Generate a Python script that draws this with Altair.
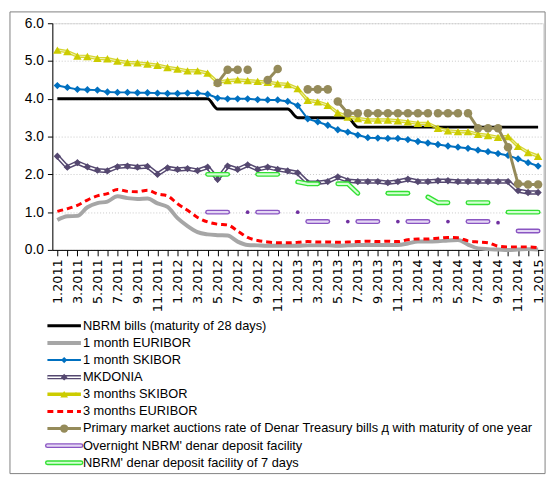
import altair as alt
import pandas as pd

# ---------------- data ----------------
months = [f"{m}.{y}" for y in range(2011, 2016) for m in range(1, 13)][:49]
idx = list(range(49))

nbrm_bills = [4.00, 4.00, 4.00, 4.00, 4.00, 4.00, 4.00, 4.00, 4.00, 4.00, 4.00, 4.00,
              4.00, 4.00, 4.00, 4.00, 3.73, 3.73, 3.73, 3.73, 3.73, 3.73, 3.73, 3.73,
              3.50, 3.50, 3.50, 3.50, 3.50, 3.50, 3.25, 3.25, 3.25, 3.25, 3.25, 3.25,
              3.25, 3.25, 3.25, 3.25, 3.25, 3.25, 3.25, 3.25, 3.25, 3.25, 3.25, 3.25,
              3.25]
euribor_1m = [0.79, 0.89, 0.90, 1.13, 1.24, 1.28, 1.42, 1.37, 1.35, 1.36, 1.23, 1.14,
              0.84, 0.63, 0.47, 0.41, 0.39, 0.38, 0.22, 0.13, 0.12, 0.11, 0.11, 0.11,
              0.11, 0.12, 0.12, 0.12, 0.11, 0.12, 0.13, 0.13, 0.13, 0.13, 0.13, 0.17,
              0.22, 0.22, 0.23, 0.25, 0.26, 0.14, 0.04, 0.02, 0.01, 0.00, 0.01, 0.02,
              0.01]
skibor_1m = [4.35, 4.30, 4.25, 4.24, 4.23, 4.18, 4.17, 4.17, 4.16, 4.16, 4.15, 4.14,
             4.14, 4.15, 4.15, 4.12, 4.02, 4.00, 4.00, 4.00, 3.98, 3.97, 3.97, 3.93,
             3.82, 3.47, 3.39, 3.30, 3.18, 3.12, 3.04, 2.97, 2.96, 2.95, 2.95, 2.92,
             2.87, 2.83, 2.79, 2.75, 2.72, 2.69, 2.64, 2.60, 2.55, 2.50, 2.41, 2.31,
             2.22]
mkdonia = [2.48, 2.19, 2.31, 2.20, 2.11, 2.09, 2.20, 2.22, 2.19, 2.21, 2.00, 2.17,
           2.13, 2.15, 2.10, 2.19, 1.87, 2.22, 2.13, 2.25, 2.13, 2.19, 2.13, 2.09,
           2.04, 1.78, 1.78, 1.81, 1.93, 1.83, 1.81, 1.81, 1.81, 1.78, 1.81, 1.87,
           1.81, 1.81, 1.83, 1.83, 1.81, 1.81, 1.81, 1.81, 1.81, 1.81, 1.57, 1.52,
           1.52]
skibor_3m = [5.29, 5.25, 5.13, 5.12, 5.07, 5.06, 5.00, 4.96, 4.95, 4.92, 4.89, 4.83,
             4.79, 4.74, 4.74, 4.68, 4.44, 4.48, 4.50, 4.48, 4.46, 4.44, 4.40, 4.38,
             4.27, 3.96, 3.92, 3.83, 3.63, 3.52, 3.48, 3.44, 3.44, 3.44, 3.42, 3.39,
             3.35, 3.35, 3.22, 3.15, 3.13, 3.13, 3.06, 3.03, 2.98, 3.00, 2.74, 2.58,
             2.48]
euribor_3m = [1.02, 1.09, 1.18, 1.32, 1.43, 1.49, 1.60, 1.55, 1.54, 1.58, 1.48, 1.43,
              1.22, 1.05, 0.86, 0.74, 0.68, 0.66, 0.50, 0.33, 0.25, 0.21, 0.19, 0.19,
              0.20, 0.22, 0.21, 0.21, 0.20, 0.21, 0.22, 0.23, 0.22, 0.23, 0.22, 0.27,
              0.29, 0.29, 0.31, 0.33, 0.32, 0.24, 0.21, 0.19, 0.10, 0.08, 0.08, 0.08,
              0.06]

# sparse series: (month index, value, segment id)
tbills_i = [16, 17, 18, 19, 21, 22, 25, 26, 27, 28, 29, 30, 31, 32, 33, 34, 35, 36, 37,
            38, 39, 40, 41, 42, 43, 44, 45, 46, 47, 48]
tbills_v = [4.42, 4.77, 4.77, 4.77, 4.50, 4.79, 4.25, 4.25, 4.25, 3.93, 3.62, 3.62, 3.62, 3.62,
            3.62, 3.62, 3.62, 3.62, 3.62, 3.62, 3.62, 3.62, 3.62, 3.22, 3.22, 3.22, 2.72, 1.75,
            1.73, 1.73]
tbills_s = [1, 1, 1, 2, 3, 3, 4, 4, 4, 5, 5, 5, 6, 6, 6, 6, 6, 6, 6,
            7, 7, 7, 8, 8, 8, 8, 8, 8, 8, 8]

overnight_i = [15, 16, 17, 20, 21, 22, 25, 26, 27, 30, 31, 32, 35, 36, 37, 41, 42, 43, 46, 47, 48]
overnight_v = [1.00, 1.00, 1.00, 1.00, 1.00, 1.00, 0.75, 0.75, 0.75, 0.75, 0.75, 0.75,
               0.75, 0.75, 0.75, 0.75, 0.75, 0.75, 0.50, 0.50, 0.50]
overnight_s = [1, 1, 1, 2, 2, 2, 3, 3, 3, 4, 4, 4, 5, 5, 5, 6, 6, 6, 7, 7, 7]
overnight_dot_i = [19, 24, 29, 34, 39, 44]
overnight_dot_v = [1.00, 1.00, 0.75, 0.75, 0.75, 0.72]

dep7_i = [15, 16, 17, 20, 21, 22, 24, 25, 26, 28, 29, 30, 33, 34, 35, 37, 38, 39, 41, 42, 43,
          45, 46, 47, 48]
dep7_v = [2.00, 2.00, 2.00, 2.00, 2.00, 2.00, 1.80, 1.75, 1.75, 1.75, 1.75, 1.50, 1.50, 1.50,
          1.50, 1.40, 1.25, 1.25, 1.25, 1.25, 1.25, 1.00, 1.00, 1.00, 1.00]
dep7_s = [1, 1, 1, 2, 2, 2, 3, 3, 3, 4, 4, 4, 5, 5, 5, 6, 6, 6, 7, 7, 7, 8, 8, 8, 8]

legend_names = ["NBRM bills (maturity of 28 days)", "1 month EURIBOR", "1 month SKIBOR",
                "MKDONIA", "3 months SKIBOR", "3 months EURIBOR",
                "\u00a0Primary market auctions rate of Denar Treasury bills \u0434 with maturity of one year",
                "Overnight NBRM' denar deposit facility", "NBRM' denar deposit facility of 7 days"]

# ---------------- styling ----------------
W, H = 498, 230
FONT = "Liberation Sans"
C_BLACK = "#000000"
C_GREY = "#a6a6a6"
C_BLUE = "#0070c0"
C_MKD = "#554870"
C_YEL = "#cccc00"
C_RED = "#ff0000"
C_OLIVE = "#958b5a"
C_PURP = "#8a55c2"
C_PURP_IN = "#e4d8f4"
C_GRN = "#33e033"
C_GRN_IN = "#d4ffd4"

label_arr = "[" + ",".join(f"'{m}'" for m in months) + "]"
x_axis = alt.Axis(values=idx, labelExpr=f"datum.value % 2 == 0 ? {label_arr}[datum.value] : ''",
                  labelAngle=270, labelFont="DejaVu Sans", labelFontSize=13, labelColor="#000",
                  labelPadding=3, tickSize=6, tickColor="#000", domainColor="#000",
                  grid=False, title=None, labelOverlap=False, labelBound=False, labelFlush=False)
y_axis = alt.Axis(values=[0, 1, 2, 3, 4, 5, 6], format=".1f", labelFont=FONT, labelFontSize=14,
                  labelColor="#000", tickSize=5, tickColor="#000", domainColor="#000",
                  grid=True, gridColor="#c8c8c8", gridDash=[1, 2], gridWidth=1, title=None,
                  labelPadding=4)
xs = alt.Scale(domain=[-0.5, 48.5], nice=False, zero=False)
ys = alt.Scale(domain=[0, 6], nice=False, zero=False)


def X():
    return alt.X("i:Q", scale=xs, axis=x_axis)


def Y(axis=False):
    return alt.Y("v:Q", scale=ys, axis=y_axis if axis else None)


def full(vals):
    return pd.DataFrame({"i": idx, "v": vals})


layers = []

# black NBRM bills
layers.append(alt.Chart(full(nbrm_bills)).mark_line(color=C_BLACK, strokeWidth=3, interpolate="monotone")
              .encode(x=X(), y=Y(True)))
# grey 1m EURIBOR
layers.append(alt.Chart(full(euribor_1m)).mark_line(color=C_GREY, strokeWidth=4, interpolate="monotone")
              .encode(x=X(), y=Y()))
# blue 1m SKIBOR
d = full(skibor_1m)
layers.append(alt.Chart(d).mark_line(color=C_BLUE, strokeWidth=2).encode(x=X(), y=Y()))
layers.append(alt.Chart(d).mark_point(shape="diamond", filled=True, color=C_BLUE, size=55, opacity=1)
              .encode(x=X(), y=Y()))
# MKDONIA double line
d = full(mkdonia)
layers.append(alt.Chart(d).mark_line(color=C_MKD, strokeWidth=4.5).encode(x=X(), y=Y()))
layers.append(alt.Chart(d).mark_line(color="#ffffff", strokeWidth=1.5).encode(x=X(), y=Y()))
layers.append(alt.Chart(d).mark_point(shape="diamond", filled=True, color=C_MKD, size=55, opacity=1)
              .encode(x=X(), y=Y()))
# 3m SKIBOR
d = full(skibor_3m)
layers.append(alt.Chart(d).mark_line(color=C_YEL, strokeWidth=3.5, opacity=0.8).encode(x=X(), y=Y()))
layers.append(alt.Chart(d).mark_line(color="#ffffff", strokeWidth=0.8, opacity=0.8).encode(x=X(), y=Y()))
layers.append(alt.Chart(d).mark_point(shape="triangle-up", filled=True, color=C_YEL, size=75, opacity=1)
              .encode(x=X(), y=Y()))
# 3m EURIBOR dashed
layers.append(alt.Chart(full(euribor_3m)).mark_line(color=C_RED, strokeWidth=3, strokeDash=[6, 4],
                                                    interpolate="monotone")
              .encode(x=X(), y=Y()))
# treasury bills
d = pd.DataFrame({"i": tbills_i, "v": tbills_v, "s": tbills_s})
layers.append(alt.Chart(d).mark_line(color=C_OLIVE, strokeWidth=3).encode(x=X(), y=Y(), detail="s:N"))
layers.append(alt.Chart(d).mark_point(shape="circle", filled=True, color=C_OLIVE, size=75, opacity=1)
              .encode(x=X(), y=Y()))
# overnight deposit facility
d = pd.DataFrame({"i": overnight_i, "v": overnight_v, "s": overnight_s})
layers.append(alt.Chart(d).mark_line(color=C_PURP, strokeWidth=5, strokeCap="round")
              .encode(x=X(), y=Y(), detail="s:N"))
layers.append(alt.Chart(d).mark_line(color=C_PURP_IN, strokeWidth=2.2, strokeCap="round")
              .encode(x=X(), y=Y(), detail="s:N"))
d = pd.DataFrame({"i": overnight_dot_i, "v": overnight_dot_v})
layers.append(alt.Chart(d).mark_point(shape="circle", filled=True, color="#7030a0", size=14, opacity=1)
              .encode(x=X(), y=Y()))
# 7-day deposit facility
d = pd.DataFrame({"i": dep7_i, "v": dep7_v, "s": dep7_s})
layers.append(alt.Chart(d).mark_line(color=C_GRN, strokeWidth=5, strokeCap="round")
              .encode(x=X(), y=Y(), detail="s:N"))
layers.append(alt.Chart(d).mark_line(color=C_GRN_IN, strokeWidth=2.2, strokeCap="round")
              .encode(x=X(), y=Y(), detail="s:N"))

# ---------------- legend ----------------
leg = pd.DataFrame({"row": list(range(len(legend_names))), "name": legend_names})
ly = alt.Y("row:Q", scale=alt.Scale(domain=[0, 8], range=[307, 446], nice=False, zero=False), axis=None)
LX0, LX1, LXM, LXT = -5, 29, 12, 31


def leg_rule(row, color, width, dash=None, cap="butt"):
    kw = dict(color=color, strokeWidth=width, strokeCap=cap)
    if dash:
        kw["strokeDash"] = dash
    return alt.Chart(leg[leg.row == row]).mark_rule(**kw).encode(
        x=alt.value(LX0), x2=alt.value(LX1), y=ly)


def leg_pt(row, shape, color, size, x=LXM):
    return alt.Chart(leg[leg.row == row]).mark_point(shape=shape, filled=True, color=color, size=size,
                                                      opacity=1).encode(x=alt.value(x), y=ly)


layers += [
    leg_rule(0, C_BLACK, 3),
    leg_rule(1, C_GREY, 4),
    leg_rule(2, C_BLUE, 2), leg_pt(2, "diamond", C_BLUE, 40),
    leg_rule(3, C_MKD, 4.5), leg_rule(3, "#ffffff", 1.5), leg_pt(3, "diamond", C_MKD, 45),
    leg_rule(4, C_YEL, 3.5, cap="butt"), leg_pt(4, "triangle-up", C_YEL, 60), leg_pt(4, "circle", C_YEL, 12, x=24),
    leg_rule(5, C_RED, 3, dash=[6, 4]),
    leg_rule(6, C_OLIVE, 3), leg_pt(6, "circle", C_OLIVE, 70),
    leg_rule(7, C_PURP, 5, cap="round"), leg_rule(7, C_PURP_IN, 2.2, cap="round"),
    leg_rule(8, C_GRN, 5, cap="round"), leg_rule(8, C_GRN_IN, 2.2, cap="round"),
]
layers.append(alt.Chart(leg).mark_text(align="left", baseline="middle", font=FONT, fontSize=13,
                                       color="#000").encode(x=alt.value(LXT), y=ly, text="name:N"))

# outer frame
layers.append(alt.Chart(pd.DataFrame({"k": [0]})).mark_rect(filled=False, stroke="#808080", strokeWidth=1)
              .encode(x=alt.value(-43), x2=alt.value(500), y=alt.value(-11.5), y2=alt.value(457)))

chart = (alt.layer(*layers)
         .resolve_scale(y="independent")
         .properties(width=W, height=H, autosize=alt.AutoSizeParams(type="none"),
                     padding={"left": 45, "top": 12, "right": 7, "bottom": 229})
         .configure_view(stroke="#000", strokeWidth=1)
         .configure(background="#ffffff"))

chart.save("out.html", embed_options={"renderer": "svg", "actions": False})
